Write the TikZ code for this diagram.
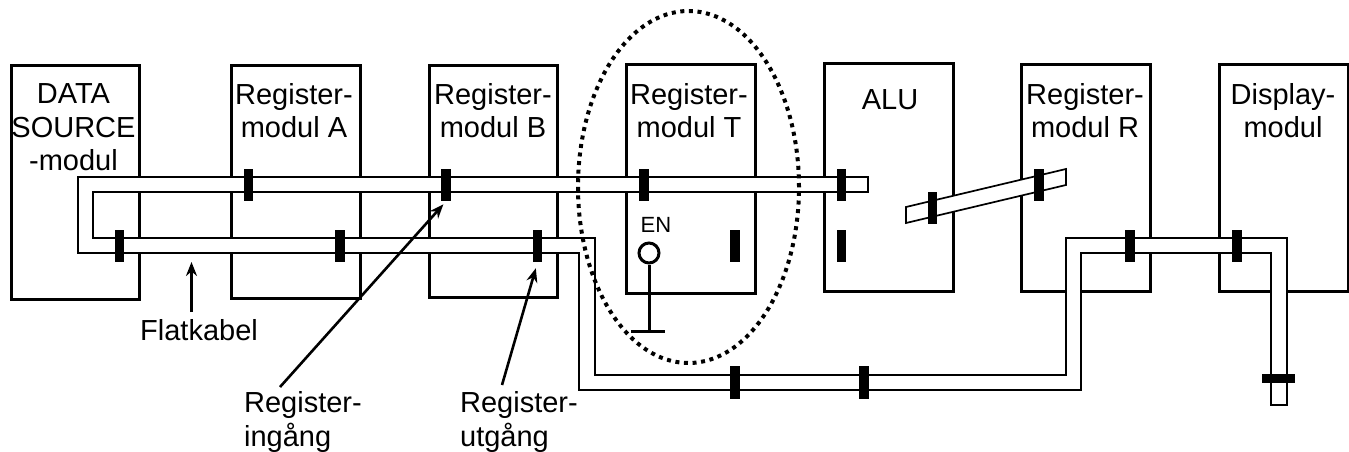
\documentclass[tikz,border=0pt]{standalone}
\usepackage{fontspec}
\setmainfont{Liberation Sans}
\usetikzlibrary{arrows.meta}
\tikzset{
	modbox/.style={draw, line width=3pt, anchor=north west, inner sep=0pt},
	modtext/.style={align=center, inner sep=0pt, font=\fontsize{29}{33.5}\selectfont},
	kabel/.style={draw, fill=white, line width=1.7pt, line join=miter},
	kontakt/.style={fill=black, inner sep=0pt, minimum width=9.5pt, minimum height=32.5pt},
	pil/.style={line width=2.6pt, -{Stealth[length=14pt, width=11pt]}}
}

\begin{document}
\begin{tikzpicture}[x=1pt, y=-1pt]
			%%%%% RAM %%%%%
			\useasboundingbox (0, 0) rectangle (1349, 452);
			
			%%%%% MODULER %%%%%
			\node[modbox, minimum width=128.5pt, minimum height=234pt] (data) at (9.5, 64) {};
			\node[modbox, minimum width=129pt, minimum height=233pt] (regA) at (230, 64) {};
			\node[modbox, minimum width=128pt, minimum height=232pt] (regB) at (428, 64) {};
			\node[modbox, minimum width=129pt, minimum height=229pt] (regT) at (625, 63) {};
			\node[modbox, minimum width=129pt, minimum height=228pt] (alu) at (823, 62) {};
			\node[modbox, minimum width=129pt, minimum height=227pt] (regR) at (1020, 63) {};
			\node[modbox, minimum width=129pt, minimum height=227pt] (disp) at (1218, 63) {};
			
			\node[modtext] (tData) at (73.5, 127.5) {DATA\\SOURCE\\-modul};
			\node[modtext] (tA) at (294, 110.5) {Register-\\modul A};
			\node[modtext] (tB) at (493, 110.5) {Register-\\modul B};
			\node[modtext] (tT) at (689, 110.5) {Register-\\modul T};
			\node[modtext] (tAlu) at (890, 100) {ALU};
			\node[modtext] (tR) at (1085, 110.5) {Register-\\modul R};
			\node[modtext] (tDisp) at (1283, 110.5) {Display-\\modul};
			
			%%%%% FLATKABLAR %%%%%
			\draw[kabel] (78, 177) -- (868, 177) -- (868, 192) -- (93, 192) -- (93, 238)
				-- (595, 238) -- (595, 375) -- (1066, 375) -- (1066, 238) -- (1287, 238)
				-- (1287, 405) -- (1271, 405) -- (1271, 253) -- (1081, 253) -- (1081, 390)
				-- (579, 390) -- (579, 253) -- (78, 253) -- cycle;
			\draw[kabel] (906, 207) -- (1066, 169) -- (1066, 185) -- (906, 223) -- cycle;
			
			%%%%% KONTAKTER %%%%%
			\node[kontakt] (inA) at (248.5, 185) {};
			\node[kontakt] (inB) at (446, 185) {};
			\node[kontakt] (inT) at (644, 185) {};
			\node[kontakt] (inAlu1) at (841.5, 185) {};
			\node[kontakt] (inAlu2) at (932.5, 208) {};
			\node[kontakt] (inR) at (1039, 185) {};
			
			\node[kontakt] (utData) at (119.5, 246) {};
			\node[kontakt] (utA) at (340, 246) {};
			\node[kontakt] (utB) at (537.5, 246) {};
			\node[kontakt] (utT) at (735, 246) {};
			\node[kontakt] (utAlu) at (841.5, 246) {};
			\node[kontakt] (utR) at (1130, 246) {};
			\node[kontakt] (inDisp) at (1237, 246) {};
			
			\node[kontakt] (mitt1) at (735, 382.5) {};
			\node[kontakt] (mitt2) at (864, 382.5) {};
			\node[fill=black, inner sep=0pt, minimum width=33pt, minimum height=9.5pt] (slut) at (1278.5, 378.5) {};
			
			%%%%% EN-INGANG %%%%%
			\node[font=\fontsize{22}{26}\selectfont, inner sep=0pt] (tEn) at (656, 225) {EN};
			\node[draw, circle, line width=3pt, inner sep=0pt, minimum size=20pt] (en) at (649, 253) {};
			\node[fill=black, inner sep=0pt, minimum width=34pt, minimum height=3pt] (jord) at (648, 331.5) {};
			\draw[line width=3pt] (en.south) -- (en.south |- jord.center);
			
			%%%%% PILAR %%%%%
			\node[modtext] (tKabel) at (199, 330) {Flatkabel};
			\node[modtext, align=left] (tIn) at (303, 422) {Register-\\ingång};
			\node[modtext, align=left] (tUt) at (519, 422) {Register-\\utgång};
			
			\coordinate (svansK) at (191.5, 312);
			\coordinate (kabelK) at (191.5, 253);
			\coordinate (svansIn) at (280, 387);
			\coordinate (svansUt) at (502, 385);
			\draw[pil, shorten >=9pt] (svansK) -- (kabelK);
			\draw[pil, shorten >=4pt] (svansIn) -- (inB.south);
			\draw[pil, shorten >=6pt] (svansUt) -- (utB.south);
			
			%%%%% PRICKAD RING %%%%%
			\draw[line width=4pt, dash pattern=on 4pt off 4.6pt] (688.5, 187) ellipse [x radius=110.5pt, y radius=176pt];
			
			%%%%% SLUT %%%%%
		\end{tikzpicture}
\end{document}
